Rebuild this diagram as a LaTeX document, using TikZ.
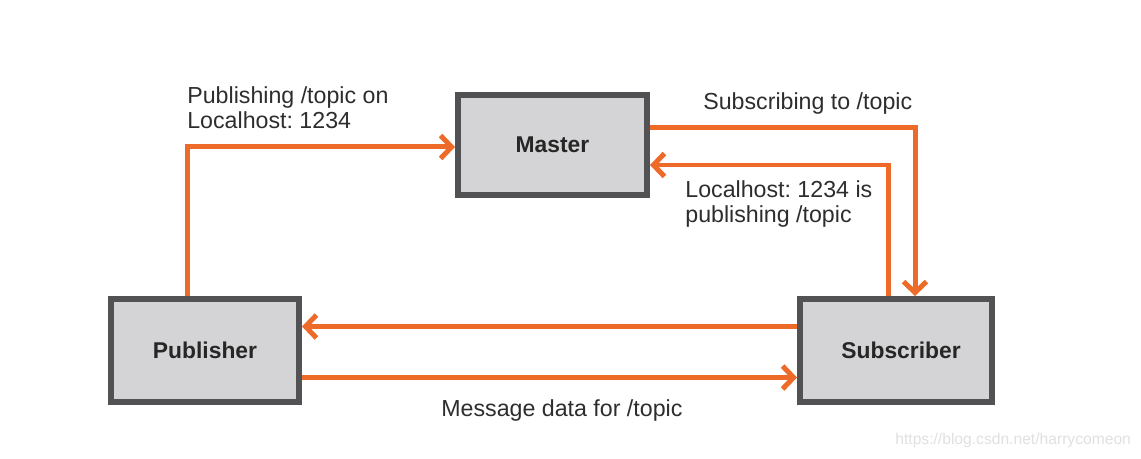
\documentclass[tikz,border=0pt]{standalone}
\usepackage{fontspec}
\setmainfont{Liberation Sans}
\usetikzlibrary{arrows.meta,calc}
\definecolor{rosorange}{RGB}{238,106,40}
\definecolor{rosframe}{RGB}{82,82,84}
\definecolor{rosfill}{RGB}{212,212,214}
\definecolor{rostext}{RGB}{45,45,45}
\tikzset{
  rosbox/.style={draw=rosframe,fill=rosfill,line width=1.2mm,
    font=\fontsize{13}{15}\selectfont\bfseries,text=black!85},
  flow/.style={draw=rosorange,line width=1mm,
    -{Straight Barb[length=2.2mm,width=4.6mm]}},
  lbl/.style={font=\fontsize{13.2}{14.4}\selectfont\frenchspacing,text=rostext,
    align=left,inner sep=0pt}
}
\begin{document}
\begin{tikzpicture}[x=0.02cm,y=-0.02cm,line join=miter]
\useasboundingbox (0,0) rectangle (1141,459);
\node[rosbox,minimum width=3.78cm,minimum height=2cm] (master) at (552.5,145) {Master};
\node[rosbox,minimum width=3.76cm,minimum height=2.06cm] (publisher) at (205,350.5) {Publisher};
\node[rosbox,minimum width=3.84cm,minimum height=2.06cm,text width=2.6cm,align=center] (subscriber) at (896,350.5) {\hspace*{0.2cm}Subscriber};
\draw[flow] ($(publisher.north)+(-18,0)$) |- ($(master.west)+(0,2)$);
\draw[flow] ($(master.east)+(0,-17)$) -| ($(subscriber.north)+(19,0)$);
\draw[flow] ($(subscriber.north)+(-8,0)$) |- ($(master.east)+(0,20)$);
\draw[flow] ($(subscriber.west)+(0,-24)$) -- ($(publisher.east)+(0,-24)$);
\draw[flow] ($(publisher.east)+(0,27)$) -- ($(subscriber.west)+(0,27)$);
\node[lbl,anchor=north west] (pubtxt) at (187,86) {Publishing /topic on\\Localhost: 1234};
\node[lbl,anchor=north west] (subtxt) at (703,92) {Subscribing to /topic};
\node[lbl,anchor=north west] (advtxt) at (685,180) {Localhost: 1234 is\\publishing /topic};
\node[lbl,anchor=north west] (msgtxt) at (441,399) {Message data for /topic};
\node[lbl,anchor=north west,font=\fontsize{8.9}{10}\selectfont,text=black!12] (mark) at (895,433) {https://blog.csdn.net/harrycomeon};
\end{tikzpicture}
\end{document}
